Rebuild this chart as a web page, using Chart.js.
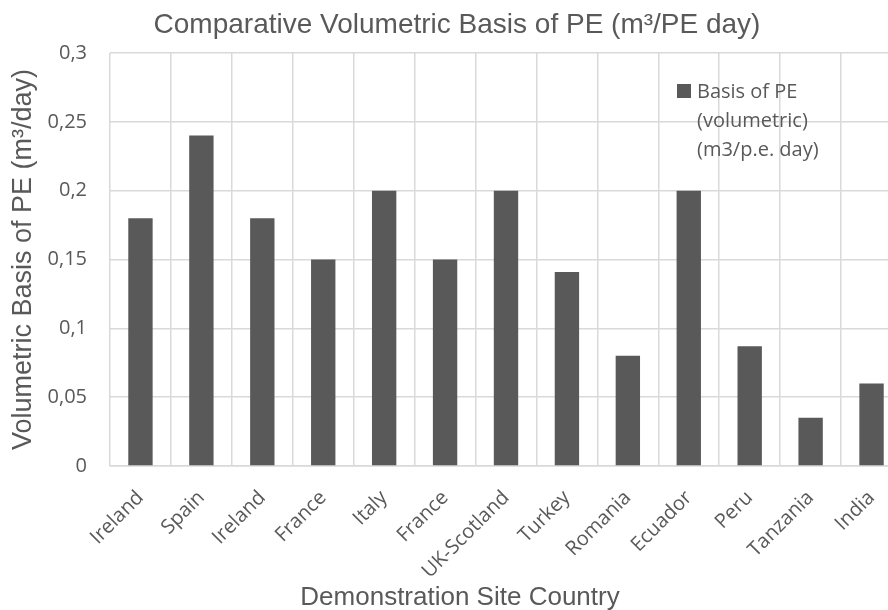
<!DOCTYPE html>
<html>
<head>
<meta charset="utf-8">
<title>Comparative Volumetric Basis of PE</title>
<script src="https://cdn.jsdelivr.net/npm/chart.js@4.4.1/dist/chart.umd.min.js"></script>
<style>
  html, body { margin: 0; padding: 0; background: #fff; overflow: hidden; }
  body { width: 888px; height: 610px; }
  #wrap { width: 912px; height: 610px; }
</style>
</head>
<body>
<div id="wrap"><canvas id="peChart"></canvas></div>
<script>
// données
const countries = ['Ireland', 'Spain', 'Ireland', 'France', 'Italy', 'France', 'UK-Scotland',
                   'Turkey', 'Romania', 'Ecuador', 'Peru', 'Tanzania', 'India'];
const basisValues = [0.18, 0.24, 0.18, 0.15, 0.2, 0.15, 0.2, 0.141, 0.08, 0.2, 0.087, 0.035, 0.06];
const yTickLabels = ['0', '0,05', '0,1', '0,15', '0,2', '0,25', '0,3'];
const seriesName = 'Basis of PE (volumetric) (m3/p.e. day)';
const legendLines = ['Basis of PE', '(volumetric)', '(m3/p.e. day)'];
const chartTitle = 'Comparative Volumetric Basis of PE (m³/PE day)';
const xTitle = 'Demonstration Site Country';
const yTitle = 'Volumetric Basis of PE (m³/day)';

const textColor = '#595959';
const gridColor = '#d9d9d9';
const barColor = '#595959';

// titre, titre de l'axe x et légende dessinés à la main
const decorPlugin = {
    id: 'decor',
    afterDraw(chart) {
        const ctx = chart.ctx;
        ctx.save();
        ctx.fillStyle = textColor;
        ctx.textAlign = 'center';
        ctx.textBaseline = 'alphabetic';
        ctx.font = '28px "Liberation Sans", Arial, sans-serif';
        ctx.fillText(chartTitle, 457, 33);
        ctx.font = '26px "Liberation Sans", Arial, sans-serif';
        ctx.fillText(xTitle, 460, 605);

        // légende
        ctx.fillStyle = barColor;
        ctx.fillRect(677, 84, 14, 14);
        ctx.fillStyle = textColor;
        ctx.textAlign = 'left';
        ctx.textBaseline = 'middle';
        ctx.font = '20px "Open Sans", sans-serif';
        legendLines.forEach((line, i) => {
            ctx.fillText(line, 697, 92 + i * 29);
        });
        ctx.restore();
    }
};

const ctx = document.getElementById('peChart').getContext('2d');
new Chart(ctx, {
    type: 'bar',
    data: {
        labels: countries,
        datasets: [{
            label: seriesName,
            data: basisValues,
            backgroundColor: barColor,
            barPercentage: 0.4,
            categoryPercentage: 1.0
        }]
    },
    options: {
        responsive: true,
        maintainAspectRatio: false,
        animation: false,
        layout: { padding: { top: 53, right: 10, bottom: 0, left: 0 } },
        plugins: {
            legend: { display: false },
            title: { display: false },
            tooltip: { enabled: false }
        },
        scales: {
            x: {
                grid: { color: gridColor, lineWidth: 1.5, drawTicks: false, offset: true },
                border: { color: gridColor, width: 1.5 },
                ticks: {
                    color: textColor,
                    font: { family: 'Open Sans', size: 20 },
                    minRotation: 45,
                    maxRotation: 45,
                    autoSkip: false,
                    padding: 20
                },
                afterFit: (scale) => { scale.height = 144; }
            },
            y: {
                min: 0,
                max: 0.3,
                grid: { color: gridColor, lineWidth: 1.5, drawTicks: false },
                border: { display: false },
                ticks: {
                    stepSize: 0.05,
                    color: textColor,
                    font: { family: 'Open Sans', size: 20 },
                    padding: 23,
                    callback: (value, index) => yTickLabels[index]
                },
                title: {
                    display: true,
                    text: yTitle,
                    color: textColor,
                    font: { family: 'Liberation Sans', size: 27 },
                    padding: { top: 7, bottom: 0 }
                },
                afterFit: (scale) => { scale.width = 110; }
            }
        }
    },
    plugins: [decorPlugin]
});
</script>
</body>
</html>
